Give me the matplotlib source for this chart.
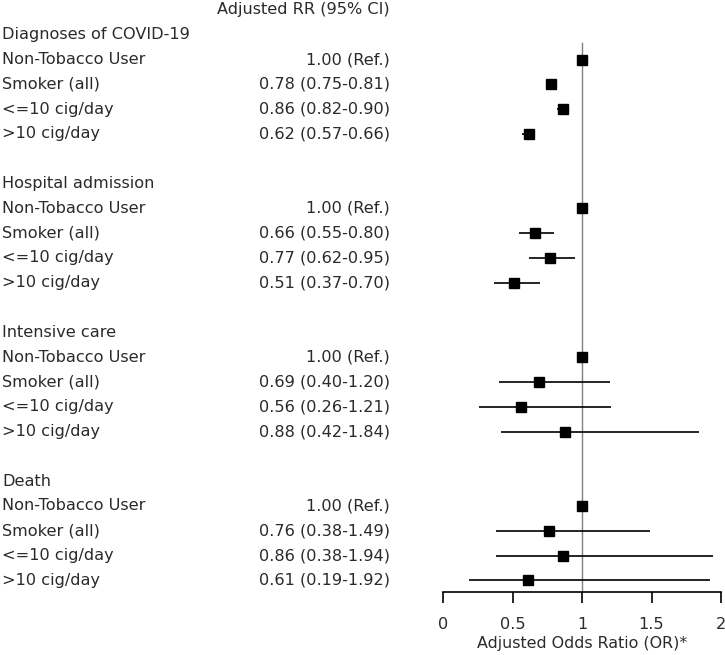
import matplotlib.pyplot as plt
from matplotlib.transforms import blended_transform_factory

# ----- data -----
groups = ["Diagnoses of COVID-19", "Hospital admission", "Intensive care", "Death"]
subgroups = ["Non-Tobacco User", "Smoker (all)", "<=10 cig/day", ">10 cig/day"]

rr = [
    [1.00, 0.78, 0.86, 0.62],
    [1.00, 0.66, 0.77, 0.51],
    [1.00, 0.69, 0.56, 0.88],
    [1.00, 0.76, 0.86, 0.61],
]
ci_low = [
    [None, 0.75, 0.82, 0.57],
    [None, 0.55, 0.62, 0.37],
    [None, 0.40, 0.26, 0.42],
    [None, 0.38, 0.38, 0.19],
]
ci_high = [
    [None, 0.81, 0.90, 0.66],
    [None, 0.80, 0.95, 0.70],
    [None, 1.20, 1.21, 1.84],
    [None, 1.49, 1.94, 1.92],
]

xticks = [0, 0.5, 1, 1.5, 2]
xtick_labels = ["0", "0.5", "1", "1.5", "2"]

FONT = "DejaVu Sans"
FS = 11.6
TXT = "#2a2a2a"

# ----- layout (row units: row 0 = column header) -----
ROW_TOP_PX = 10
ROW_STEP_PX = 24.8
AXIS_Y_PX = 592
H_PX, W_PX = 655, 725

y_bottom = (AXIS_Y_PX - ROW_TOP_PX) / ROW_STEP_PX
y_top = -ROW_TOP_PX / ROW_STEP_PX

fig = plt.figure(figsize=(7.25, 6.55), dpi=100)
ax = fig.add_axes([443 / W_PX, (H_PX - AXIS_Y_PX) / H_PX, (721 - 443) / W_PX, AXIS_Y_PX / H_PX])
ax.set_xlim(0, 2)
ax.set_ylim(y_bottom, y_top)

trans = blended_transform_factory(fig.transFigure, ax.transData)
label_x = 2 / W_PX
rr_x = 390 / W_PX

ax.text(rr_x, 0, "Adjusted RR (95% CI)", transform=trans, ha="right", va="center",
        fontsize=FS, family=FONT, color=TXT)

row = 1
for g, name in enumerate(groups):
    ax.text(label_x, row, name, transform=trans, ha="left", va="center",
            fontsize=FS, family=FONT, color=TXT)
    row += 1
    for s, sub in enumerate(subgroups):
        ax.text(label_x, row, sub, transform=trans, ha="left", va="center",
                fontsize=FS, family=FONT, color=TXT)
        if ci_low[g][s] is None:
            rr_text = f"{rr[g][s]:.2f} (Ref.)"
        else:
            rr_text = f"{rr[g][s]:.2f} ({ci_low[g][s]:.2f}-{ci_high[g][s]:.2f})"
            ax.plot([ci_low[g][s], ci_high[g][s]], [row, row], color="black", lw=1.2,
                    solid_capstyle="butt", zorder=3)
        ax.text(rr_x, row, rr_text, transform=trans, ha="right", va="center",
                fontsize=FS, family=FONT, color=TXT)
        ax.plot(rr[g][s], row, marker="s", color="black", markersize=7.5, zorder=4)
        row += 1
    row += 1

# reference line at OR = 1
ax.plot([1, 1], [1.35, y_bottom], color="#808080", lw=1.0, zorder=2)

for side in ["top", "right", "left"]:
    ax.spines[side].set_visible(False)
ax.spines["bottom"].set_linewidth(1.2)
ax.set_yticks([])
ax.set_xticks(xticks)
ax.set_xticklabels(xtick_labels, fontsize=FS, family=FONT, color=TXT)
ax.tick_params(axis="x", direction="out", length=8, width=1.2, pad=10)
ax.set_xlabel("Adjusted Odds Ratio (OR)*", fontsize=11.4, family=FONT, color=TXT,
              labelpad=3)
ax.patch.set_alpha(0)

fig.savefig("out.png", dpi=100)
